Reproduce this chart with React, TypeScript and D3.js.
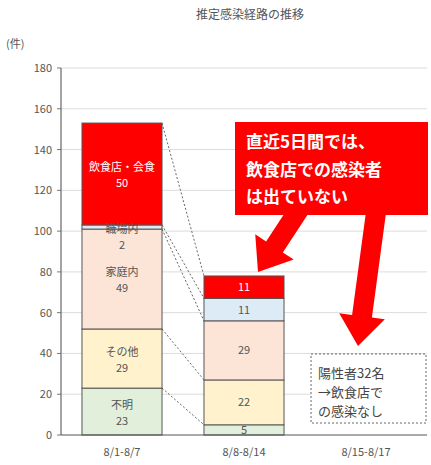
import React from "react";
import * as d3 from "d3";

const categories = ["8/1-8/7", "8/8-8/14", "8/15-8/17"];
const seriesNames = ["不明", "その他", "家庭内", "職場内", "飲食店・会食"];
const unknownVals = [23, 5, 0];
const otherVals = [29, 22, 0];
const homeVals = [49, 29, 0];
const workVals = [2, 11, 0];
const restaurantVals = [50, 11, 0];
const seriesColors = ["#e2efda", "#fff2cc", "#fce4d6", "#ddebf7", "#ff0000"];
const yTicks = [0, 20, 40, 60, 80, 100, 120, 140, 160, 180];

const W = 431;
const H = 465;
const FONT = "'Noto Sans CJK JP', 'Noto Sans', sans-serif";

function arrowPoints(x1: number, y1: number, x2: number, y2: number, sw: number, hw: number, hl: number) {
  const dx = x2 - x1, dy = y2 - y1;
  const len = Math.hypot(dx, dy);
  const ux = dx / len, uy = dy / len;
  const px = -uy, py = ux;
  const bx = x2 - ux * hl, by = y2 - uy * hl;
  const pts = [
    [x1 + px * sw / 2, y1 + py * sw / 2],
    [bx + px * sw / 2, by + py * sw / 2],
    [bx + px * hw / 2, by + py * hw / 2],
    [x2, y2],
    [bx - px * hw / 2, by - py * hw / 2],
    [bx - px * sw / 2, by - py * sw / 2],
    [x1 - px * sw / 2, y1 - py * sw / 2],
  ];
  return pts.map((p) => p.join(",")).join(" ");
}

export default function App() {
  const rows = categories.map((c, i) => ({
    cat: c,
    不明: unknownVals[i],
    その他: otherVals[i],
    家庭内: homeVals[i],
    職場内: workVals[i],
    "飲食店・会食": restaurantVals[i],
  }));
  const stack = d3.stack<any>().keys(seriesNames)(rows);

  const x = d3.scaleBand().domain(categories).range([61, 427]).paddingInner(0.344).paddingOuter(0.172);
  const y = d3.scaleLinear().domain([0, 180]).range([435, 68]);
  const bw = x.bandwidth();

  const x0 = x(categories[0])! + bw;
  const x1 = x(categories[1])!;
  const conn = [
    [153, 78],
    [103, 67],
    [101, 56],
    [52, 27],
    [23, 5],
  ];

  return (
    <svg width={W} height={H} style={{ position: "absolute", left: 0, top: 0, background: "#fff" }} fontFamily={FONT}>
      <text x={250} y={19} textAnchor="middle" fontSize={12} fill="#555">推定感染経路の推移</text>
      <text x={6} y={48} fontSize={11} fill="#555">(件)</text>
      {yTicks.map((t) => (
        <g key={t}>
          {t > 0 && <line x1={61} x2={427} y1={y(t)} y2={y(t)} stroke="#dcdcdc" strokeWidth={1} />}
          <line x1={57} x2={61} y1={y(t)} y2={y(t)} stroke="#777" />
          <text x={52} y={y(t) + 4} textAnchor="end" fontSize={11} fill="#555">{t}</text>
        </g>
      ))}
      <line x1={61} x2={61} y1={y(180)} y2={y(0)} stroke="#666" strokeWidth={1.2} />

      {conn.map(([a, b], i) => (
        <line key={i} x1={x0} y1={y(a)} x2={x1} y2={y(b)} stroke="#666" strokeWidth={1} strokeDasharray="2,2" />
      ))}

      {stack.map((s, si) =>
        s.map((d, ci) =>
          d[1] - d[0] > 0 ? (
            <rect key={si + "-" + ci} x={x(categories[ci])} y={y(d[1])} width={bw} height={y(d[0]) - y(d[1])}
              fill={seriesColors[si]} stroke="#555" strokeWidth={1} />
          ) : null
        )
      )}

      {/* bar 1 labels */}
      {stack.map((s, si) => {
        const d = s[0];
        const cx = x(categories[0])! + bw / 2;
        let cy = (y(d[0]) + y(d[1])) / 2;
        if (si === 3) cy = y(d[1]) + 11;
        const white = si === 4;
        return (
          <g key={"l1" + si} fontSize={11} fill={white ? "#fff" : "#555"} textAnchor="middle">
            <text x={cx} y={cy - 3}>{seriesNames[si]}</text>
            <text x={cx} y={cy + 13}>{d[1] - d[0]}</text>
          </g>
        );
      })}
      {/* bar 2 labels */}
      {stack.map((s, si) => {
        const d = s[1];
        const cx = x(categories[1])! + bw / 2;
        const cy = (y(d[0]) + y(d[1])) / 2;
        return (
          <text key={"l2" + si} x={cx} y={cy + 4} fontSize={11} textAnchor="middle" fill={si === 4 ? "#fff" : "#555"}>
            {d[1] - d[0]}
          </text>
        );
      })}

      <line x1={61} x2={427} y1={y(0)} y2={y(0)} stroke="#555" strokeWidth={1.2} />
      {categories.map((c) => (
        <text key={c} x={x(c)! + bw / 2} y={456} textAnchor="middle" fontSize={11} fill="#555">{c}</text>
      ))}

      {/* arrows and callout */}
      <polygon points={arrowPoints(302, 205, 258, 272, 20, 46, 30)} fill="#ff0000" />
      <polygon points={arrowPoints(377, 205, 358, 346, 20, 46, 30)} fill="#ff0000" />
      <rect x={235} y={122} width={193} height={93} fill="#ff0000" />
      <g fill="#fff" fontSize={17} fontWeight="bold">
        <text x={246} y={148}>直近5日間では、</text>
        <text x={246} y={176}>飲食店での感染者</text>
        <text x={246} y={203}>は出ていない</text>
      </g>

      <rect x={311} y={354} width={115} height={69} fill="#fff" stroke="#666" strokeDasharray="2,2" />
      <g fill="#444" fontSize={13}>
        <text x={318} y={378}>陽性者32名</text>
        <text x={318} y={397}>→飲食店で</text>
        <text x={318} y={416}>の感染なし</text>
      </g>
    </svg>
  );
}
